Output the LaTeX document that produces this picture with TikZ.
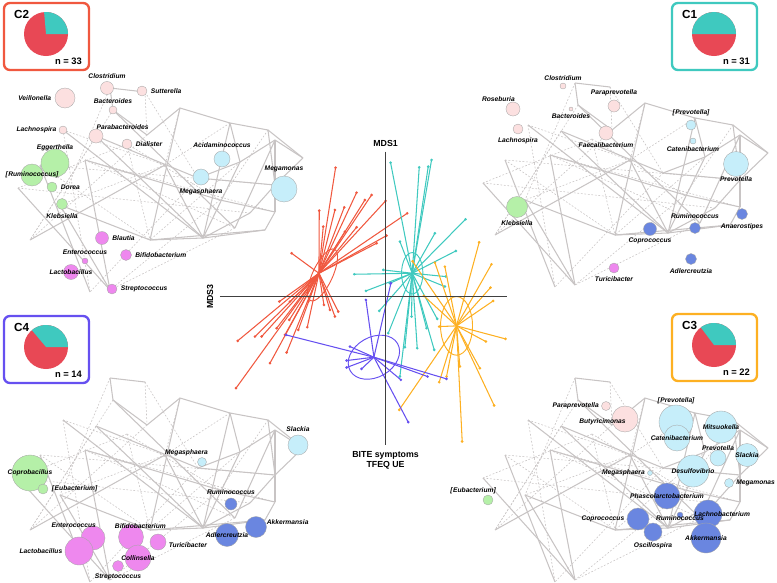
\documentclass[tikz,border=0pt]{standalone}
\usepackage{fontspec}
\setmainfont{Liberation Sans}
\usetikzlibrary{positioning,calc}
\definecolor{cRed}{HTML}{F0583F}
\definecolor{cTeal}{HTML}{3FC9BF}
\definecolor{cPurple}{HTML}{6650F0}
\definecolor{cOrange}{HTML}{FDB022}
\definecolor{pieRed}{HTML}{E84855}
\definecolor{tPink}{HTML}{FCE0E0}
\definecolor{tGreen}{HTML}{B5F0A8}
\definecolor{tBlue}{HTML}{C6EEFA}
\definecolor{tMag}{HTML}{EE88EE}
\definecolor{tDark}{HTML}{6A86E0}
\definecolor{netgray}{HTML}{C8C4C4}

\tikzset{
  taxon/.style={circle,draw=gray!70,line width=0.3pt,inner sep=0pt,minimum size=#1*0.03cm},
  lab/.style={font=\fontsize{5.7}{6.5}\selectfont\bfseries\itshape,inner sep=0pt},
  netline/.style={draw=netgray,line width=0.9pt},
  weakline/.style={draw=netgray,line width=0.5pt,dash pattern=on 1.5pt off 1.5pt},
  box/.style={rounded corners=5pt,line width=2pt,fill=white},
  dot/.style={circle,fill,inner sep=0pt,minimum size=2.5pt},
  spk/.style={line width=0.9pt}
}

% generic background network, local pixel coordinates
\newcommand\bgnet{%
  \coordinate (v1) at (110,88);  \coordinate (v2) at (145,92);  \coordinate (v3) at (113,110);
  \coordinate (v4) at (180,108); \coordinate (v5) at (230,123); \coordinate (v6) at (268,130);
  \coordinate (v7) at (303,158); \coordinate (v8) at (275,140); \coordinate (v9) at (240,162);
  \coordinate (v10) at (147,135); \coordinate (v11) at (63,130); \coordinate (v12) at (96,136);
  \coordinate (v13) at (127,144); \coordinate (v14) at (275,185); \coordinate (v15) at (275,212);
  \coordinate (v16) at (265,230); \coordinate (v17) at (203,238); \coordinate (v18) at (235,228);
  \coordinate (v19) at (150,240); \coordinate (v20) at (90,292); \coordinate (v21) at (18,188);
  \coordinate (v22) at (165,165); \coordinate (v23) at (250,213); \coordinate (v24) at (198,178);
  \coordinate (v25) at (60,205); \coordinate (v26) at (110,290); \coordinate (v27) at (40,165);
  \coordinate (v28) at (85,160); \coordinate (v29) at (30,240); \coordinate (v30) at (220,200);
  \foreach \i/\j in {1/2,1/3,3/10,11/17,12/17,10/4,4/5,5/6,6/7,7/8,8/9,9/5,6/14,14/15,15/16,
    16/17,17/9,17/5,17/23,23/14,14/7,18/8,18/3,19/17,19/16,12/24,24/9,24/14,21/26,27/20,
    28/26,25/26,25/19,29/22,22/17,28/30,30/15,4/19,8/15}
    {\draw[netline] (v\i) -- (v\j);}
  \foreach \i/\j in {2/10,11/20,11/22,13/21,27/19,28/18,10/29,3/29,24/20,22/25,4/22,9/19,
    30/26,2/24,12/29,13/19,28/15,27/14,21/23,1/25,5/22,6/30,18/26,13/30}
    {\draw[weakline] (v\i) -- (v\j);}
}

% cluster box with pie
\newcommand\clbox[6]{% x,y,color,name,n,teal angle
  \draw[box,draw=#3] (#1,#2) rectangle ++(85,67);
  \node[font=\fontsize{10}{12}\selectfont\bfseries,anchor=west] at ($(#1,#2)+(6,11)$) {#4};
  \coordinate (pc) at ($(#1,#2)+(42,31)$);
  \fill[pieRed] (pc) circle[radius=22];
  \fill[cTeal] (pc) -- ++(0:22) arc[start angle=0,end angle=-#6,radius=22] -- cycle;
  \node[font=\fontsize{8}{10}\selectfont\bfseries,anchor=east] at ($(#1,#2)+(82,58)$) {n = #5};
}

\begin{document}
\begin{tikzpicture}[x=0.03cm,y=-0.03cm]
\useasboundingbox (0,0) rectangle (777,582);

% ---- networks
\begin{scope}\bgnet\end{scope}
\begin{scope}[shift={(465,-5)}]\bgnet\end{scope}
\begin{scope}[shift={(0,290)}]\bgnet\end{scope}
\begin{scope}[shift={(465,290)}]\bgnet\end{scope}

% ---- C2
\clbox{4}{3}{cRed}{C2}{33}{95}
\foreach \nm/\p/\s/\c in {veil/{(65,98)}/20/tPink, clos/{(107,88)}/13/tPink, sutt/{(142,91)}/10/tPink,
  bact/{(113,110)}/8/tPink, lach/{(63,130)}/8/tPink, parab/{(96,136)}/14/tPink, dial/{(127,144)}/10/tPink,
  egg/{(55,163)}/28/tGreen, rum/{(32,175)}/22/tGreen, dor/{(52,187)}/10/tGreen, kle/{(62,204)}/11/tGreen,
  acid/{(222,159)}/16/tBlue, mgs/{(201,177)}/16/tBlue, mgm/{(284,189)}/26/tBlue,
  bla/{(102,238)}/13/tMag, bif/{(126,255)}/11/tMag, ent/{(85,261)}/6/tMag, lac/{(71,272)}/15/tMag, str/{(112,289)}/10/tMag}
  {\node[taxon=\s,fill=\c] (a\nm) at \p {};}
\node[lab,left=3pt of aveil] {Veillonella};
\node[lab,above=2pt of aclos] {Clostridium};
\node[lab,right=3pt of asutt] {Sutterella};
\node[lab,above=2pt of abact] {Bacteroides};
\node[lab,left=2pt of alach] {Lachnospira};
\node[lab,above right=1pt and -4pt of aparab] {Parabacteroides};
\node[lab,right=3pt of adial] {Dialister};
\node[lab,above=-2pt of aegg] {Eggerthella};
\node[lab] at (arum) {[\textup{\textit{Ruminococcus}}]};
\node[lab,right=3pt of ador] {Dorea};
\node[lab,below=3pt of akle] {Klebsiella};
\node[lab,above=3pt of aacid] {Acidaminococcus};
\node[lab,below=3pt of amgs] {Megasphaera};
\node[lab,above=3pt of amgm] {Megamonas};
\node[lab,right=3pt of abla] {Blautia};
\node[lab,right=3pt of abif] {Bifidobacterium};
\node[lab,above=3pt of aent] {Enterococcus};
\node[lab] at (alac) {Lactobacillus};
\node[lab,right=3pt of astr] {Streptococcus};

% ---- C1
\clbox{672}{3}{cTeal}{C1}{31}{180}
\foreach \nm/\p/\s/\c in {clos/{(563,86)}/6/tPink, rose/{(513,109)}/14/tPink, parap/{(614,106)}/12/tPink,
  bact/{(571,109)}/4/tPink, lach/{(518,129)}/10/tPink, faec/{(606,133)}/14/tPink,
  prevb/{(691,125)}/10/tBlue, cate/{(693,141)}/6/tBlue, prev/{(736,164)}/25/tBlue,
  kle/{(517,207)}/21/tGreen, rum/{(695,228)}/11/tDark, anae/{(742,214)}/11/tDark,
  copr/{(650,229)}/13/tDark, adle/{(691,259)}/11/tDark, turi/{(614,268)}/10/tMag}
  {\node[taxon=\s,fill=\c] (b\nm) at \p {};}
\node[lab,above=2pt of bclos] {Clostridium};
\node[lab,above left=2pt and -6pt of brose] {Roseburia};
\node[lab,above=3pt of bparap] {Paraprevotella};
\node[lab,below=2pt of bbact] {Bacteroides};
\node[lab,below=3pt of blach] {Lachnospira};
\node[lab,below=2pt of bfaec] {Faecalibacterium};
\node[lab,above=3pt of bprevb] {[\textup{\textit{Prevotella}}]};
\node[lab,below=2pt of bcate] {Catenibacterium};
\node[lab,below=0pt of bprev] {Prevotella};
\node[lab,below=2pt of bkle] {Klebsiella};
\node[lab,above=3pt of brum] {Ruminococcus};
\node[lab,below=3pt of banae] {Anaerostipes};
\node[lab,below=2pt of bcopr] {Coprococcus};
\node[lab,below=3pt of badle] {Adlercreutzia};
\node[lab,below=3pt of bturi] {Turicibacter};

% ---- C4
\clbox{4}{316}{cPurple}{C4}{14}{130}
\foreach \nm/\p/\s/\c in {slac/{(298,445)}/20/tBlue, mgs/{(202,462)}/9/tBlue,
  copb/{(30,473)}/36/tGreen, eub/{(43,489)}/10/tGreen,
  rum/{(231,504)}/12/tDark, akk/{(256,527)}/21/tDark, adle/{(227,535)}/23/tDark,
  ent/{(93,538)}/24/tMag, bif/{(131,537)}/25/tMag, turi/{(158,542)}/16/tMag,
  lac/{(79,551)}/28/tMag, coll/{(138,558)}/26/tMag, str/{(118,566)}/11/tMag}
  {\node[taxon=\s,fill=\c] (c\nm) at \p {};}
\node[lab,above=3pt of cslac] {Slackia};
\node[lab,above left=2pt and -8pt of cmgs] {Megasphaera};
\node[lab] at (ccopb) {Coprobacillus};
\node[lab,right=3pt of ceub] {[\textup{\textit{Eubacterium}}]};
\node[lab,above=3pt of crum] {Ruminococcus};
\node[lab,right=0pt of cakk,yshift=4pt] {Akkermansia};
\node[lab] at (cadle) {Adlercreutzia};
\node[lab,above left=1pt and -10pt of cent] {Enterococcus};
\node[lab,above=-4pt of cbif,xshift=8pt] {Bifidobacterium};
\node[lab,right=2pt of cturi,yshift=-3pt] {Turicibacter};
\node[lab,left=2pt of clac] {Lactobacillus};
\node[lab] at (ccoll) {Collinsella};
\node[lab,below=2pt of cstr] {Streptococcus};

% ---- C3
\clbox{672}{314}{cOrange}{C3}{22}{127}
\foreach \nm/\p/\s/\c in {parap/{(606,406)}/9/tPink, buty/{(625,419)}/26/tPink,
  prevb/{(676,422)}/34/tBlue, mits/{(721,427)}/32/tBlue, cate/{(677,438)}/26/tBlue,
  prev/{(718,458)}/16/tBlue, slac/{(747,455)}/23/tBlue, desu/{(693,471)}/32/tBlue,
  mgs/{(650,473)}/5/tBlue, mgm/{(729,483)}/9/tBlue, eub/{(488,500)}/10/tGreen,
  phas/{(667,496)}/26/tDark, copr/{(638,519)}/22/tDark, rum/{(680,515)}/6/tDark,
  lachb/{(708,514)}/28/tDark, osci/{(653,532)}/18/tDark, akk/{(706,538)}/30/tDark}
  {\node[taxon=\s,fill=\c] (d\nm) at \p {};}
\node[lab,left=2pt of dparap] {Paraprevotella};
\node[lab,left=-12pt of dbuty,yshift=-2pt] {Butyricimonas};
\node[lab,above=1pt of dprevb] {[\textup{\textit{Prevotella}}]};
\node[lab] at (dmits) {Mitsuokella};
\node[lab] at (dcate) {Catenibacterium};
\node[lab,above=-1pt of dprev] {Prevotella};
\node[lab] at (dslac) {Slackia};
\node[lab] at (ddesu) {Desulfovibrio};
\node[lab,left=2pt of dmgs] {Megasphaera};
\node[lab,right=2pt of dmgm] {Megamonas};
\node[lab,above left=2pt and -10pt of deub] {[\textup{\textit{Eubacterium}}]};
\node[lab] at (dphas) {Phascolarctobacterium};
\node[lab,left=2pt of dcopr] {Coprococcus};
\node[lab,below=-2pt of drum] {Ruminococcus};
\node[lab,right=-24pt of dlachb] {Lachnobacterium};
\node[lab] at (dakk) {Akkermansia};
\node[lab,below=1pt of dosci] {Oscillospira};

% ---- ordination spider
\begin{scope}[shift={(200,120)},x=0.01cm,y=-0.01cm]
\coordinate (r0) at (357,460);
\coordinate (t0) at (637,460);
\coordinate (o0) at (770,618);
\coordinate (p0) at (522,712);
\foreach \p in {(407,143),(470,218),(515,225),(495,240),(433,262),(405,270),(358,272),(557,243),
  (622,280),(370,320),(470,322),(435,335),(530,370),(560,347),(275,400),(238,545),(270,545),
  (325,545),(372,555),(390,570),(415,575),(405,590),(113,663),(165,650),(185,650),(230,625),
  (268,600),(322,622),(260,698),(210,730),(108,805),(255,645),(295,630)}
  {\draw[spk,cRed] (r0) -- \p node[dot,cRed]{};}
\foreach \p in {(572,128),(695,120),(658,142),(685,140),(797,298),(705,340),(600,365),(768,393),
  (550,450),(463,463),(498,513),(538,573),(570,490),(738,470),(735,500),(565,640),(615,682),
  (652,685),(680,625),(712,597),(703,690),(600,770),(635,590)}
  {\draw[spk,cTeal] (t0) -- \p node[dot,cTeal]{};}
\foreach \p in {(838,367),(875,433),(872,503),(880,543),(735,440),(705,428),(638,424),(672,528),
  (718,620),(917,657),(858,665),(840,745),(883,857),(787,965),(598,870),(718,787),(780,740),(740,770)}
  {\draw[spk,cOrange] (o0) -- \p node[dot,cOrange]{};}
\foreach \p in {(573,490),(498,540),(258,645),(440,722),(440,743),(485,747),(603,780),(625,907),
  (740,777),(683,770),(450,680)}
  {\draw[spk,cPurple] (p0) -- \p node[dot,cPurple]{};}
\draw[cRed,line width=0.8pt,rotate around={-25:(r0)}] ($(r0)+(12,0)$) ellipse[x radius=30,y radius=85];
\draw[cTeal,line width=0.8pt] (t0) ellipse[x radius=32,y radius=62];
\draw[cOrange,line width=0.8pt] (o0) ellipse[x radius=48,y radius=88];
\draw[cPurple,line width=0.8pt,rotate around={30:(p0)}] (p0) ellipse[x radius=82,y radius=60];
% axes
\coordinate (ax1) at (557,95);
\coordinate (ax2) at (557,975);
\coordinate (ax3) at (60,530);
\coordinate (ax4) at (922,530);
\draw[line width=1pt,black!75] (ax1) -- (ax2);
\draw[line width=1pt,black!75] (ax3) -- (ax4);
\node[font=\fontsize{7.5}{9}\selectfont\bfseries,above=1pt] at (ax1) {MDS1};
\node[font=\fontsize{7.5}{9}\selectfont\bfseries,rotate=90,anchor=south] at ($(ax3)+(-8,0)$) {MDS3};
\node[font=\fontsize{7.5}{9}\selectfont\bfseries,below=2pt,align=center] at (ax2) {BITE symptoms\\TFEQ UE};
\end{scope}
\end{tikzpicture}
\end{document}
